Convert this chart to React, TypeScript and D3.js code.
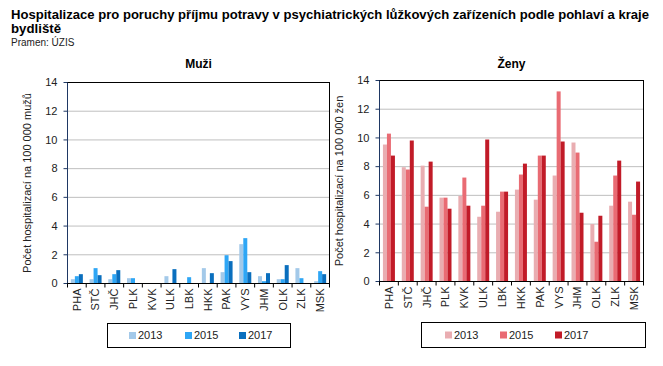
import React from 'react';
import * as d3 from 'd3';

const regions = ['PHA', 'STČ', 'JHČ', 'PLK', 'KVK', 'ULK', 'LBK', 'HKK', 'PAK', 'VYS', 'JHM', 'OLK', 'ZLK', 'MSK'];
const years = ['2013', '2015', '2017'];
const yTicks = [0, 2, 4, 6, 8, 10, 12, 14];

// muži, per 100 000
const men2013 = [0.3, 0.3, 0.3, 0.37, 0, 0.51, 0, 1.07, 0.79, 2.74, 0.51, 0.3, 1.07, 0.16];
const men2015 = [0.51, 1.07, 0.65, 0.37, 0, 0, 0.44, 0, 1.97, 3.16, 0.16, 0.3, 0.37, 0.86];
const men2017 = [0.65, 0.58, 0.93, 0, 0, 1.0, 0, 0.72, 1.56, 0.79, 0.72, 1.28, 0, 0.65];

// ženy, per 100 000
const women2013 = [9.54, 7.96, 8.07, 5.84, 5.96, 4.51, 4.86, 6.4, 5.7, 7.38, 9.68, 4.0, 5.28, 5.56];
const women2015 = [10.3, 7.8, 5.21, 5.84, 7.24, 5.28, 6.26, 7.45, 8.77, 13.24, 8.98, 2.77, 7.38, 4.65];
const women2017 = [8.77, 9.82, 8.35, 5.07, 5.28, 9.89, 6.26, 8.21, 8.77, 9.75, 4.79, 4.58, 8.42, 6.96];

const blueColors = ['#a3c9e9', '#2ea6f5', '#0a6fbe'];
const redColors = ['#e9adb1', '#e96b73', '#c11b28'];

const FONT = 'Liberation Sans, Arial, sans-serif';

type PanelProps = {
  title: string;
  yLabel: string;
  series: number[][];
  colors: string[];
  left: number;
  right: number;
  top: number;
  bottom: number;
  legend: { x: number; y: number; w: number; h: number; items: number[] };
};

function Panel({ title, yLabel, series, colors, left, right, top, bottom, legend }: PanelProps) {
  const xScale = d3.scaleBand().domain(regions).range([left, right]);
  const yScale = d3.scaleLinear().domain([0, 14]).range([bottom, top]);
  const inner = d3.scaleBand().domain(years).range([0, 12]);
  const bw = xScale.bandwidth();

  return (
    <g fontFamily={FONT}>
      <text x={(left + right) / 2} y={68} textAnchor="middle" fontSize={12} fontWeight="bold">
        {title}
      </text>
      {yTicks.map((t) => (
        <g key={t}>
          {t > 0 && t < 14 && (
            <line x1={left} x2={right} y1={yScale(t)} y2={yScale(t)} stroke="#bfbfbf" />
          )}
          <line x1={left - 4} x2={left} y1={yScale(t)} y2={yScale(t)} stroke="#1f3864" />
          <text x={left - 10} y={yScale(t)} dy="0.35em" textAnchor="end" fontSize={11} fill="#222">
            {t}
          </text>
        </g>
      ))}
      <rect x={left} y={top} width={right - left} height={bottom - top} fill="none" stroke="#000" />
      {series.map((vals, si) =>
        vals.map((v, i) =>
          v > 0 ? (
            <rect
              key={`${si}-${i}`}
              x={(xScale(regions[i]) ?? 0) + (bw - 12) / 2 + (inner(years[si]) ?? 0)}
              y={yScale(v)}
              width={inner.bandwidth()}
              height={bottom - yScale(v)}
              fill={colors[si]}
            />
          ) : null
        )
      )}
      <line x1={left} x2={left} y1={top} y2={bottom} stroke="#1f3864" />
      <line x1={left} x2={right} y1={bottom} y2={bottom} stroke="#000" />
      {regions.map((r, i) => (
        <g key={r}>
          <line
            x1={left + i * bw}
            x2={left + i * bw}
            y1={bottom}
            y2={bottom + 4}
            stroke="#000"
          />
          <text
            transform={`translate(${(xScale(r) ?? 0) + bw / 2},${bottom + 5}) rotate(-90)`}
            textAnchor="end"
            dy="0.35em"
            fontSize={11}
            fill="#222"
          >
            {r}
          </text>
        </g>
      ))}
      <line x1={right} x2={right} y1={bottom} y2={bottom + 4} stroke="#000" />
      <text
        transform={`translate(${left - 37},${(top + bottom) / 2}) rotate(-90)`}
        textAnchor="middle"
        fontSize={11}
        fill="#222"
      >
        {yLabel}
      </text>
      <rect x={legend.x} y={legend.y} width={legend.w} height={legend.h} fill="#fff" stroke="#000" />
      {years.map((yr, i) => (
        <g key={yr}>
          <rect
            x={legend.items[i]}
            y={legend.y + legend.h / 2 - 3.5}
            width={7}
            height={7}
            fill={colors[i]}
          />
          <text
            x={legend.items[i] + 9}
            y={legend.y + legend.h / 2}
            dy="0.35em"
            fontSize={11}
            fill="#222"
          >
            {yr}
          </text>
        </g>
      ))}
    </g>
  );
}

export default function App() {
  return (
    <svg
      width={663}
      height={366}
      style={{ position: 'absolute', left: 0, top: 0, background: '#fff' }}
    >
      <g fontFamily={FONT}>
        <text x={11} y={19} fontSize={13} fontWeight="bold" textLength={638} lengthAdjust="spacingAndGlyphs">
          Hospitalizace pro poruchy příjmu potravy v psychiatrických lůžkových zařízeních podle pohlaví a kraje
        </text>
        <text x={11} y={33} fontSize={13} fontWeight="bold" textLength={50} lengthAdjust="spacingAndGlyphs">
          bydliště
        </text>
        <text x={11} y={46} fontSize={10} fill="#222">
          Pramen: ÚZIS
        </text>
      </g>
      <Panel
        title="Muži"
        yLabel="Počet hospitalizací na 100 000 mužů"
        series={[men2013, men2015, men2017]}
        colors={blueColors}
        left={67.5}
        right={329.5}
        top={82.5}
        bottom={283.5}
        legend={{ x: 107.5, y: 323.5, w: 183, h: 24, items: [129, 185, 239] }}
      />
      <Panel
        title="Ženy"
        yLabel="Počet hospitalizací na 100 000 žen"
        series={[women2013, women2015, women2017]}
        colors={redColors}
        left={379.5}
        right={643.5}
        top={80.5}
        bottom={281.5}
        legend={{ x: 421.5, y: 322.5, w: 224, h: 25, items: [445, 500, 555] }}
      />
    </svg>
  );
}
